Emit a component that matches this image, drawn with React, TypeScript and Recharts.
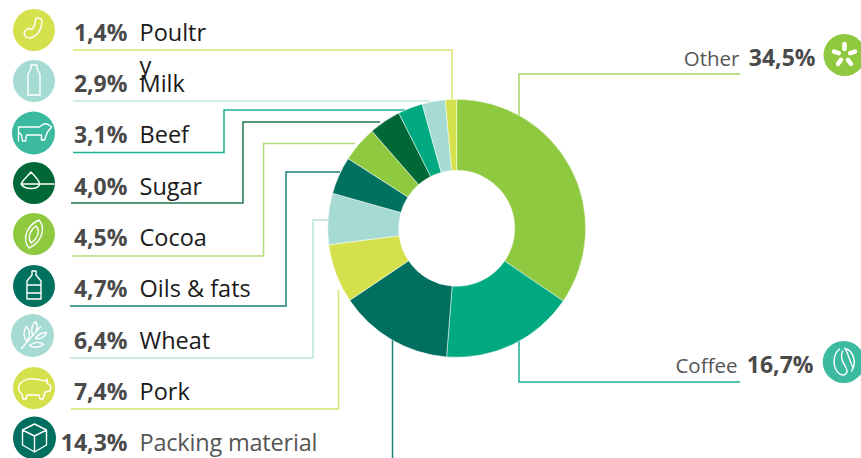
import { Cell, Pie, PieChart } from "recharts"

const categories = ["Other", "Coffee", "Packing material", "Pork", "Wheat", "Oils & fats", "Cocoa", "Sugar", "Beef", "Milk", "Poultry"]
const shares = [34.5, 16.7, 14.3, 7.4, 6.4, 4.7, 4.5, 4.0, 3.1, 2.9, 1.4]
const sliceColors = ["#8fc93f", "#00a980", "#006f5f", "#d5e04d", "#a6dbd3", "#00705f", "#8fc93f", "#006837", "#00a980", "#a6dbd3", "#d5e04d"]
const iconColors = ["#8fc93f", "#3bba9f", "#006f5f", "#d5e04d", "#a6dbd3", "#00705f", "#8fc93f", "#006837", "#3bba9f", "#a6dbd3", "#d5e04d"]

const chartData = categories.map((name, i) => ({ name, value: shares[i] }))

const FONT = "'Open Sans', sans-serif"
const fmt = (v: number) => v.toFixed(1).replace(".", ",") + "%"

// leader lines, same order as categories
const leaders = [
  "M519 125V74H740",
  "M519 335V382H740",
  "M392.5 340V458",
  "M338.5 290V409H71",
  "M335 220H313V358H70",
  "M340 172H286V306H70",
  "M355 143.5H263.5V256H72",
  "M380 122H243V203H71",
  "M405 110H224V152.5H73",
  "M430 101H73",
  "M452 105V50H73",
]
const leaderColors = ["#a5d466", "#1cb18f", "#1b8172", "#dbe46e", "#bbe4de", "#1b8172", "#b3da7b", "#1f7a4f", "#1cb18f", "#c2e6e1", "#dbe46e"]

// icon badge centres and text baselines on the left hand side
const badgeX = [844.5, 843.7, 34.5, 34, 32.5, 34, 34, 34, 33.5, 34, 34]
const badgeY = [55, 362, 438, 388, 335.5, 286, 234, 183, 133, 81, 30]
const badgeR = [21, 21, 21.5, 21, 21.5, 21, 21, 21, 21.5, 21, 21]
const baselines = [66, 373, 451, 399.5, 348.5, 296.5, 245.5, 194.5, 143, 92, 41]

const glyphs = [
  <g stroke="#fff" strokeWidth={4.5}>
    <path d="M0 -11V-6M-10.5 -3.4L-5.7 -1.9M10.5 -3.4L5.7 -1.9M-6.5 8.9L-3.5 4.9M6.5 8.9L3.5 4.9" />
  </g>,
  <path d="M-4 -13C-11 -8 -12 6 -4 12C2 15 5 10 2 5C-2 -1 -4 -6 -1 -11M3 -13C10 -10 13 1 8 9M1 -14C6 -6 6 0 9 5" />,
  <path d="M0 -14L12 -8V7L0 14L-12 7V-8ZM-12 -8L0 -2L12 -8M0 -2V14" />,
  <path d="M-15 3C-17 -6 -8 -10 0 -9C6 -9 9 -7 11 -7L13 -9V-5L17 -2L16 3L11 4L9 11H6L5 7H-7L-8 11H-11L-12 6Z" />,
  <path d="M-11 13L8 -9M-6 6C-10 0 -8 -6 -6 -9C-2 -5 -2 0 -6 6ZM0 0C-2 -6 0 -12 3 -14C6 -10 5 -4 0 0ZM-3 10C2 6 8 6 11 9C7 12 1 13 -3 10ZM3 3C6 -2 11 -3 14 -3C13 1 8 4 3 3Z" />,
  <path d="M-2 -15H2V-11L7 -5V13H-7V-5L-2 -11ZM-7 -1H7M-7 7H7" />,
  <path d="M5 -14C12 -6 8 8 -5 14C-12 6 -8 -8 5 -14ZM2 -8C7 -3 3 5 -3 9C-7 3 -3 -5 2 -8Z" />,
  <path d="M-13 1C-10 -5 -5 -8 -3 -11C0 -8 4 -4 6 1C4 7 -9 7 -13 1ZM-13 1H20" />,
  <path d="M-15 -6V8M-15 -6H6L10 -9H14L18 -6L14 -1L11 7H8V2H-7L-8 8H-11L-12 2L-15 -1" />,
  <path d="M-3 -16H3V-12L6 -7V14H-6V-7L-3 -12Z" />,
  <path d="M3 -12C8 -13 9 -8 7 -3C5 5 -3 10 -8 7C-12 3 -8 -3 -3 -1C-1 0 -1 -3 1 -6C1 -8 1 -11 3 -12Z" />,
]

const Badge = ({ i }: { i: number }) => (
  <g>
    <circle cx={badgeX[i]} cy={badgeY[i]} r={badgeR[i]} fill={iconColors[i]} />
    <g transform={`translate(${badgeX[i]} ${badgeY[i]})`} fill="none" stroke="#fff" strokeWidth={1.4} strokeLinejoin="round" strokeLinecap="round">
      {glyphs[i]}
    </g>
  </g>
)

const LeftLabel = ({ i }: { i: number }) => {
  const name = categories[i]
  const grey = name === "Packing material"
  return (
    <g fontFamily={FONT}>
      <text x={127.5} y={baselines[i]} textAnchor="end" fontSize={23} fontWeight={700} fill="#4a4a4a">
        {fmt(shares[i])}
      </text>
      {name === "Poultry" ? (
        // the source wraps this word, the last letter lands on the Milk row
        <text fontSize={23.5} fill="#1a1a1a">
          <tspan x={139.5} y={baselines[i]}>Poultr</tspan>
          <tspan x={139.5} y={baselines[i] + 33}>y</tspan>
        </text>
      ) : (
        <text x={139.5} y={baselines[i]} fontSize={23.5} fill={grey ? "#555" : "#1a1a1a"} textLength={grey ? 178 : undefined}>
          {name}
        </text>
      )}
    </g>
  )
}

const RightLabel = ({ i, nameEnd, valueEnd }: { i: number; nameEnd: number; valueEnd: number }) => (
  <g fontFamily={FONT}>
    <text x={nameEnd} y={baselines[i]} textAnchor="end" fontSize={20.5} fill="#555">
      {categories[i]}
    </text>
    <text x={valueEnd} y={baselines[i]} textAnchor="end" fontSize={23} fontWeight={700} fill="#4a4a4a">
      {fmt(shares[i])}
    </text>
  </g>
)

export default function App() {
  return (
    <div style={{ position: "absolute", left: 0, top: 0, width: 861, height: 458, overflow: "hidden", background: "#fff" }}>
      <PieChart width={861} height={458} margin={{ top: 0, right: 0, bottom: 0, left: 0 }}>
        {leaders.map((d, i) => (
          <path key={i} d={d} fill="none" stroke={leaderColors[i]} strokeWidth={1.5} />
        ))}
        <Pie
          data={chartData}
          dataKey="value"
          nameKey="name"
          cx={456.7}
          cy={228.3}
          innerRadius={58}
          outerRadius={129}
          startAngle={90}
          endAngle={-270}
          stroke="#fff"
          strokeWidth={0.5}
          isAnimationActive={false}
        >
          {chartData.map((d, i) => (
            <Cell key={d.name} fill={sliceColors[i]} />
          ))}
        </Pie>
        {categories.map((_, i) => (
          <Badge key={i} i={i} />
        ))}
        <RightLabel i={0} nameEnd={739.5} valueEnd={815.5} />
        <RightLabel i={1} nameEnd={737.5} valueEnd={813.5} />
        {categories.slice(2).map((_, i) => (
          <LeftLabel key={i} i={i + 2} />
        ))}
      </PieChart>
    </div>
  )
}
